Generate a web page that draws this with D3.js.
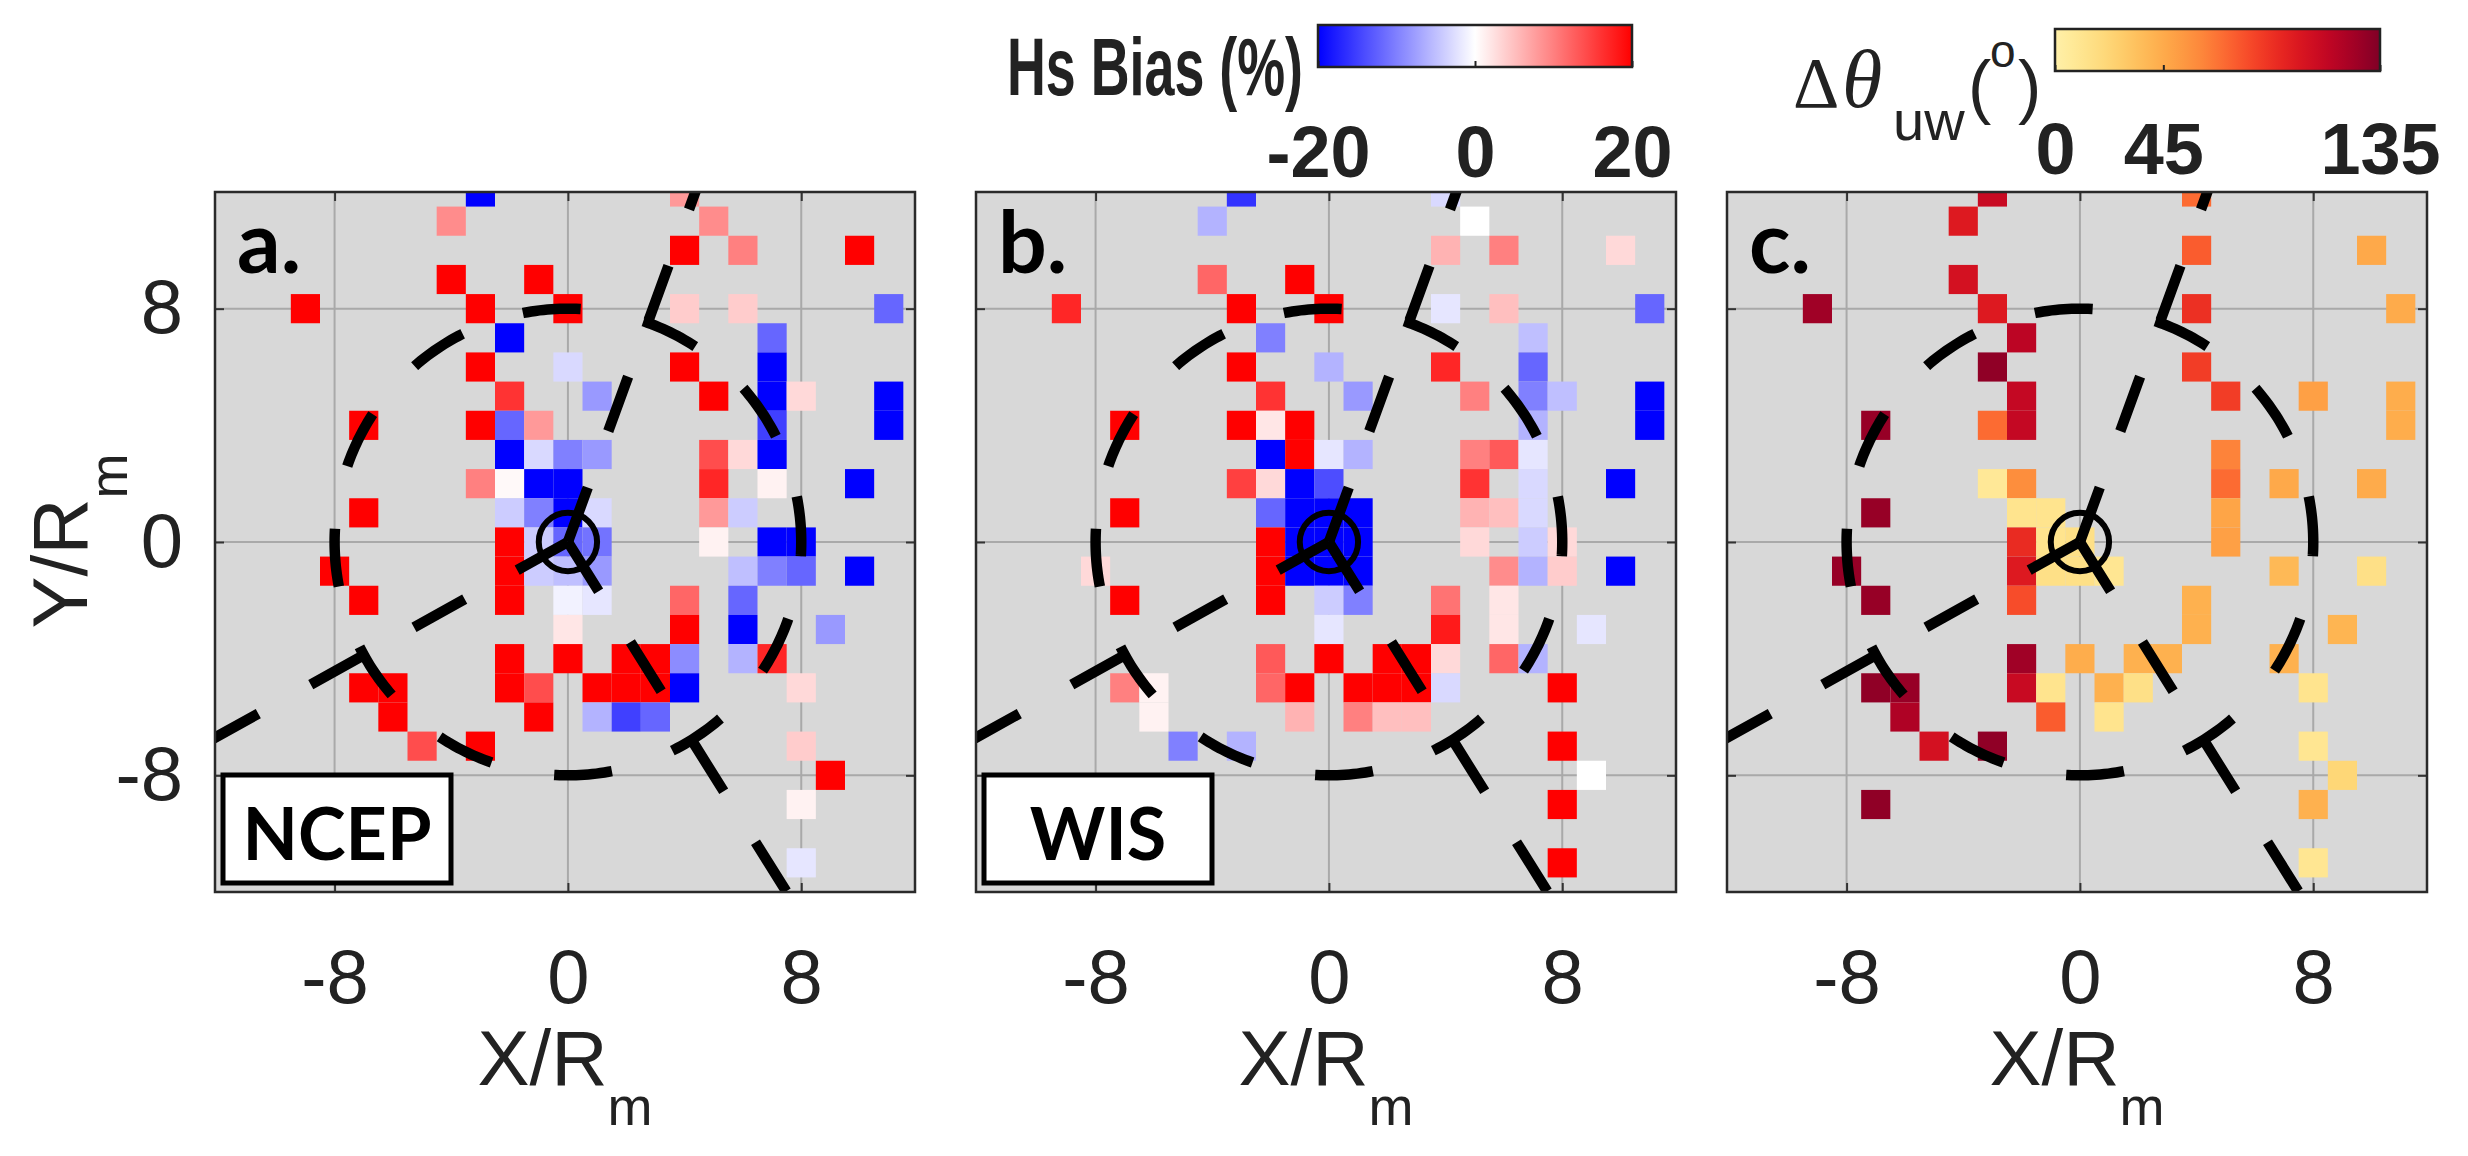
<!DOCTYPE html>
<html><head><meta charset="utf-8">
<script src="https://cdn.jsdelivr.net/npm/d3@7"></script>
<style>body{margin:0;background:#fff}</style>
</head><body>
<svg id="chart" width="2468" height="1156" xmlns="http://www.w3.org/2000/svg"></svg>
<script>
// ---------------- data ----------------
const xTicks = [-8, 0, 8];
const yTicks = [-8, 0, 8];
const panelLetters = ["a.", "b.", "c."];
const modelNames = ["NCEP", "WIS", null];
const biasTicks = [-20, 0, 20];
const dthetaTicks = [0, 45, 135];
const ringRadius = 8;      // dashed circle radius (X/Rm units)
const eyeRadius = 1;       // small solid circle at the centre
const rayAngles = [70, -58, 209];  // directions (degrees) of the dashed rays

// [X, Y, Hs bias %]
const ncepCells = [
 [-3,12,-20],[4,12,8],
 [-4,11,9],[5,11,9],
 [4,10,20],[6,10,10],[10,10,20],
 [-4,9,20],[-1,9,20],
 [-9,8,20],[-3,8,20],[0,8,20],[4,8,4],[6,8,4],[11,8,-12],
 [-2,7,-20],[7,7,-12],
 [-3,6,20],[0,6,-3],[4,6,20],[7,6,-20],
 [-2,5,16],[1,5,-8],[5,5,20],[7,5,-20],[8,5,3],[11,5,-20],
 [-7,4,20],[-3,4,20],[-2,4,-12],[-1,4,8],[7,4,-15],[11,4,-20],
 [-2,3,-20],[-1,3,-3],[0,3,-10],[1,3,-8],[5,3,14],[6,3,3],[7,3,-20],
 [-3,2,10],[-2,2,0.5],[-1,2,-20],[0,2,-20],[5,2,17],[7,2,1],[10,2,-20],
 [-7,1,20],[-2,1,-4],[-1,1,-10],[0,1,-20],[1,1,-3],[5,1,8],[6,1,-4],
 [-2,0,20],[-1,0,-4],[0,0,-12],[1,0,-11],[5,0,1],[7,0,-20],[8,0,-20],
 [-8,-1,20],[-2,-1,20],[-1,-1,-4],[0,-1,-5],[1,-1,-8],[6,-1,-5],[7,-1,-10],[8,-1,-12],[10,-1,-20],
 [-7,-2,20],[-2,-2,20],[0,-2,-1],[1,-2,-2],[4,-2,12],[6,-2,-12],
 [0,-3,2],[4,-3,20],[6,-3,-20],[9,-3,-8],
 [-2,-4,20],[0,-4,20],[2,-4,20],[3,-4,20],[4,-4,-9],[6,-4,-6],[7,-4,17],
 [-7,-5,20],[-6,-5,20],[-2,-5,20],[-1,-5,14],[1,-5,20],[2,-5,20],[3,-5,20],[4,-5,-20],[8,-5,3],
 [-6,-6,20],[-1,-6,20],[1,-6,-6],[2,-6,-15],[3,-6,-12],
 [-5,-7,14],[-3,-7,20],[8,-7,4],
 [9,-8,20],
 [8,-9,1],
 [8,-11,-2]
];
const wisCells = [
 [-3,12,-16],[4,12,-3],
 [-4,11,-6],[5,11,0],
 [4,10,6],[6,10,10],[10,10,3],
 [-4,9,12],[-1,9,20],
 [-9,8,17],[-3,8,20],[0,8,20],[4,8,-2],[6,8,5],[11,8,-12],
 [-2,7,-10],[7,7,-5],
 [-3,6,20],[0,6,-6],[4,6,17],[7,6,-12],
 [-2,5,16],[1,5,-8],[5,5,10],[7,5,-10],[8,5,-5],[11,5,-20],
 [-7,4,20],[-3,4,20],[-2,4,2],[-1,4,20],[7,4,-6],[11,4,-20],
 [-2,3,-20],[-1,3,20],[0,3,-2],[1,3,-6],[5,3,10],[6,3,13],[7,3,-2],
 [-3,2,15],[-2,2,3],[-1,2,-20],[0,2,-14],[5,2,16],[7,2,-3],[10,2,-20],
 [-7,1,20],[-2,1,-12],[-1,1,-20],[0,1,-20],[1,1,-20],[5,1,6],[6,1,5],[7,1,-3],
 [-2,0,20],[-1,0,-20],[0,0,-20],[1,0,-20],[5,0,3],[7,0,-4],[8,0,3],
 [-8,-1,3],[-2,-1,20],[-1,-1,-20],[0,-1,-20],[1,-1,-20],[6,-1,9],[7,-1,-6],[8,-1,4],[10,-1,-20],
 [-7,-2,20],[-2,-2,20],[0,-2,-4],[1,-2,-10],[4,-2,11],[6,-2,2],
 [0,-3,-2],[4,-3,18],[6,-3,2],[9,-3,-2],
 [-2,-4,13],[0,-4,20],[2,-4,20],[3,-4,20],[4,-4,3],[6,-4,12],[7,-4,-6],
 [-7,-5,10],[-6,-5,1],[-2,-5,12],[-1,-5,20],[1,-5,20],[2,-5,20],[3,-5,20],[4,-5,-3],[8,-5,20],
 [-6,-6,1],[-1,-6,6],[1,-6,10],[2,-6,5],[3,-6,5],
 [-5,-7,-10],[-3,-7,-6],[8,-7,20],
 [9,-8,0],
 [8,-9,20],
 [8,-11,20]
];
// [X, Y, delta theta_uw degrees]
const dthetaCells = [
 [-3,12,110],[4,12,70],
 [-4,11,100],
 [4,10,75],[10,10,46],
 [-4,9,105],
 [-9,8,125],[-3,8,100],[4,8,90],[11,8,45],
 [-2,7,115],
 [-3,6,130],[4,6,85],
 [-2,5,112],[5,5,85],[8,5,50],[11,5,44],
 [-7,4,128],[-3,4,70],[-2,4,112],[11,4,44],
 [5,3,62],
 [-3,2,8],[-2,2,58],[5,2,70],[7,2,46],[10,2,45],
 [-7,1,128],[-2,1,12],[-1,1,12],[5,1,48],
 [-2,0,92],[-1,0,12],[0,0,15],[5,0,50],
 [-8,-1,128],[-2,-1,100],[-1,-1,15],[0,-1,15],[1,-1,10],[7,-1,38],[10,-1,15],
 [-7,-2,128],[-2,-2,80],[4,-2,42],
 [4,-3,42],[9,-3,40],
 [-2,-4,125],[0,-4,44],[2,-4,42],[3,-4,42],[7,-4,42],
 [-7,-5,130],[-6,-5,128],[-2,-5,110],[-1,-5,12],[1,-5,42],[2,-5,15],[8,-5,12],
 [-6,-6,120],[-1,-6,75],[1,-6,12],
 [-5,-7,105],[-3,-7,130],[8,-7,10],
 [9,-8,22],
 [-7,-9,130],[8,-9,42],
 [8,-11,10]
];
const panelCells = [ncepCells, wisCells, dthetaCells];

// ---------------- colour scales ----------------
const biasColor = d3.scaleLinear().domain([-20, 0, 20]).range(["#0000ff", "#ffffff", "#ff0000"]).clamp(true);
const dthetaColor = v => d3.interpolateYlOrRd(0.1 + 0.9 * Math.max(0, Math.min(135, v)) / 135);
const panelColor = [biasColor, biasColor, dthetaColor];

// ---------------- layout ----------------
const svg = d3.select("#chart");
const panelX = [215, 976, 1727], panelY = 192, size = 700;
const SANS = "'Liberation Sans', Arial, Helvetica, sans-serif";
const BOLDSANS = "Lato, 'Open Sans', sans-serif";
const SERIF = "'Liberation Serif', 'DejaVu Serif', serif";
const defs = svg.append("defs");

panelCells.forEach((cells, i) => {
  const x = d3.scaleLinear().domain([-12.1, 11.9]).range([0, size]);
  const y = d3.scaleLinear().domain([-12, 12]).range([size, 0]);
  const g = svg.append("g").attr("transform", `translate(${panelX[i]},${panelY})`);
  defs.append("clipPath").attr("id", "clip" + i)
    .append("rect").attr("width", size).attr("height", size);

  g.append("rect").attr("width", size).attr("height", size).attr("fill", "#d8d8d8");

  // grid
  const grid = g.append("g").attr("stroke", "#a9a9a9").attr("stroke-width", 2);
  grid.selectAll("line.gx").data(xTicks).join("line").attr("class", "gx")
    .attr("x1", d => x(d)).attr("x2", d => x(d)).attr("y1", 0).attr("y2", size);
  grid.selectAll("line.gy").data(yTicks).join("line").attr("class", "gy")
    .attr("y1", d => y(d)).attr("y2", d => y(d)).attr("x1", 0).attr("x2", size);

  const inner = g.append("g").attr("clip-path", `url(#clip${i})`);
  const cw = x(1) - x(0), ch = y(0) - y(1);
  inner.selectAll("rect.cell").data(cells).join("rect").attr("class", "cell")
    .attr("x", d => x(d[0] - 0.5)).attr("y", d => y(d[1] + 0.5))
    .attr("width", cw).attr("height", ch)
    .attr("fill", d => panelColor[i](d[2]));

  // dashed ring
  const ringPts = d3.range(-3, 358, 1).map(a => [ringRadius * Math.cos(a * Math.PI / 180), ringRadius * Math.sin(a * Math.PI / 180)]);
  const line = d3.line().x(d => x(d[0])).y(d => y(d[1]));
  inner.append("path").attr("d", line(ringPts)).attr("fill", "none")
    .attr("stroke", "#000").attr("stroke-width", 10.5).attr("stroke-dasharray", "58 64");
  // dashed rays
  inner.selectAll("path.ray").data(rayAngles).join("path").attr("class", "ray")
    .attr("d", a => line([[0, 0], [20 * Math.cos(a * Math.PI / 180), 20 * Math.sin(a * Math.PI / 180)]]))
    .attr("fill", "none").attr("stroke", "#000").attr("stroke-width", 10.5).attr("stroke-dasharray", "58 60");
  // eye circle
  inner.append("circle").attr("cx", x(0)).attr("cy", y(0)).attr("r", x(eyeRadius) - x(0))
    .attr("fill", "none").attr("stroke", "#000").attr("stroke-width", 6);

  // axes
  const fmt = d => d3.format("d")(d).replace("−", "-");
  const ax = g.append("g").attr("transform", `translate(0,${size})`)
    .call(d3.axisBottom(x).tickValues(xTicks).tickSizeInner(-9).tickSizeOuter(0).tickPadding(57).tickFormat(fmt));
  const axT = g.append("g").call(d3.axisTop(x).tickValues(xTicks).tickSizeInner(-9).tickSizeOuter(0).tickFormat(""));
  const axL = g.append("g").call(d3.axisLeft(y).tickValues(yTicks).tickSizeInner(-9).tickSizeOuter(0).tickPadding(32).tickFormat(i === 0 ? fmt : ""));
  const axR = g.append("g").attr("transform", `translate(${size},0)`)
    .call(d3.axisRight(y).tickValues(yTicks).tickSizeInner(-9).tickSizeOuter(0).tickFormat(""));
  [ax, axT, axL, axR].forEach(a => {
    a.select(".domain").remove();
    a.selectAll("line").attr("stroke", "#333").attr("stroke-width", 2);
    a.selectAll("text").attr("font-family", SANS).attr("font-size", 76).attr("fill", "#222");
  });
  g.append("rect").attr("width", size).attr("height", size).attr("fill", "none")
    .attr("stroke", "#2a2a2a").attr("stroke-width", 2.5);

  // axis label
  const xl = svg.append("text").attr("x", panelX[i] + size / 2).attr("y", 1085)
    .attr("text-anchor", "middle").attr("font-family", SANS).attr("font-size", 78).attr("fill", "#222");
  xl.append("tspan").text("X/R");
  xl.append("tspan").attr("font-size", 54).attr("dy", 40).text("m");

  // panel letter
  g.append("text").attr("x", 22).attr("y", 81).attr("font-family", BOLDSANS).attr("font-weight", 700)
    .attr("font-size", 86).attr("fill", "#000").text(panelLetters[i]);

  // model box
  if (modelNames[i]) {
    g.append("rect").attr("x", 8).attr("y", 583).attr("width", 228).attr("height", 108)
      .attr("fill", "#fff").attr("stroke", "#000").attr("stroke-width", 5);
    g.append("text").attr("x", 122).attr("y", 668).attr("text-anchor", "middle")
      .attr("font-family", BOLDSANS).attr("font-weight", 700).attr("font-size", 72).attr("fill", "#000")
      .text(modelNames[i]);
  }
});

// Y label
const yl = svg.append("text").attr("transform", "translate(87,541) rotate(-90)")
  .attr("text-anchor", "middle").attr("font-family", SANS).attr("font-size", 78).attr("fill", "#222");
yl.append("tspan").text("Y/R");
yl.append("tspan").attr("font-size", 54).attr("dy", 40).text("m");

// ---------------- colorbars ----------------
function colorbar(id, scale, colorFn, y0, y1, ticks, pad) {
  const [d0, d1] = scale.domain();
  const [x0, x1] = scale.range();
  const grad = defs.append("linearGradient").attr("id", id);
  d3.range(0, 1.0001, 0.05).forEach(t => grad.append("stop")
    .attr("offset", t).attr("stop-color", colorFn(d0 + t * (d1 - d0))));
  svg.append("rect").attr("x", x0).attr("y", y0).attr("width", x1 - x0).attr("height", y1 - y0)
    .attr("fill", `url(#${id})`).attr("stroke", "#222").attr("stroke-width", 2.5);
  const a = svg.append("g").attr("transform", `translate(0,${y1})`)
    .call(d3.axisBottom(scale).tickValues(ticks).tickSizeInner(-6).tickSizeOuter(0).tickPadding(pad)
      .tickFormat(d => String(d)));
  a.select(".domain").remove();
  a.selectAll("line").attr("stroke", "#222").attr("stroke-width", 2);
  a.selectAll("text").attr("font-family", SANS).attr("font-weight", 700).attr("font-size", 72).attr("fill", "#222");
}
const biasScale = d3.scaleLinear().domain([-20, 20]).range([1318, 1632]);
colorbar("gBias", biasScale, biasColor, 25, 67, biasTicks, 59);
const dthScale = d3.scaleLinear().domain([0, 135]).range([2055, 2380]);
colorbar("gDth", dthScale, dthetaColor, 29, 71, dthetaTicks, 52);

svg.append("text").attr("x", 1303).attr("y", 95).attr("text-anchor", "end")
  .attr("font-family", SANS).attr("font-weight", 700).attr("font-size", 82).attr("fill", "#222")
  .attr("textLength", 296).attr("lengthAdjust", "spacingAndGlyphs").text("Hs Bias (%)");

const dl = svg.append("text").attr("font-family", SANS).attr("fill", "#222");
dl.append("tspan").attr("x", 1793).attr("y", 107).attr("font-family", SERIF).attr("font-size", 72).text("Δ");
dl.append("tspan").attr("x", 1842).attr("y", 107).attr("font-family", SERIF).attr("font-style", "italic").attr("font-size", 82).text("θ");
dl.append("tspan").attr("x", 1893).attr("y", 140).attr("font-size", 56).text("uw");
dl.append("tspan").attr("x", 1968).attr("y", 110).attr("font-size", 70).text("(");
dl.append("tspan").attr("x", 1990).attr("y", 67).attr("font-size", 46).text("o");
dl.append("tspan").attr("x", 2018).attr("y", 110).attr("font-size", 70).text(")");
</script>
</body></html>
